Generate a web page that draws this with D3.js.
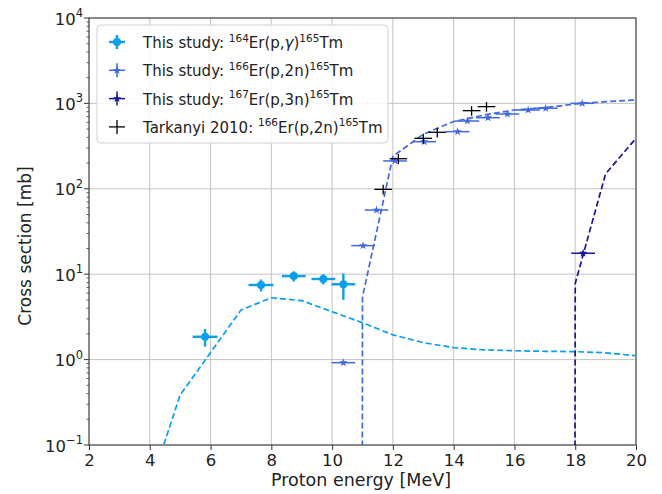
<!DOCTYPE html>
<html><head><meta charset="utf-8">
<script src="https://cdn.jsdelivr.net/npm/d3@7"></script>
<style>
body{margin:0;background:#fff;}
text{font-family:"DejaVu Sans",sans-serif;fill:#222;}
</style></head>
<body><svg id="c" width="662" height="494"></svg>
<script>
// ---- data ----
const xTicks = [2,4,6,8,10,12,14,16,18,20];
const yTickExp = [-1,0,1,2,3,4];

// This study 164Er(p,g)165Tm
const s1E = [5.82, 7.66, 8.74, 9.71, 10.37];
const s1EErr = [0.41, 0.41, 0.39, 0.39, 0.39];
const s1Xs = [1.85, 7.47, 9.5, 8.79, 7.62];
const s1XsErr = [0.43, 1.2, 1.3, 1.2, 2.6];

// This study 166Er(p,2n)165Tm
const s2E = [10.37, 11.02, 11.46, 12.07, 13.03, 14.13, 14.45, 15.13, 15.77, 16.45, 17.03, 18.23];
const s2EErr = [0.39,0.39,0.39,0.39,0.39,0.39,0.39,0.39,0.39,0.39,0.39,0.39];
const s2Xs = [0.92, 21.6, 56.4, 212, 356, 467, 622, 680, 751, 837, 877, 1002];
const s2XsErr = [0.04, 1.0, 2.5, 9, 15, 20, 26, 28, 31, 35, 36, 42];

// This study 167Er(p,3n)165Tm
const s3E = [18.26];
const s3EErr = [0.39];
const s3Xs = [17.6];
const s3XsErr = [1.0];

// Tarkanyi 2010 166Er(p,2n)165Tm
const s4E = [11.68, 12.18, 13.0, 13.46, 14.59, 15.08];
const s4EErr = [0.29, 0.29, 0.29, 0.29, 0.29, 0.29];
const s4Xs = [98.6, 225, 390, 459, 822, 916];
const s4XsErr = [13, 30, 52, 60, 105, 118];

// model curves (dashed)
const m1E = [4,5,6,7,8,9,10,11,12,13,14,15,16,17,18,19,20];
const m1Xs = [0.032,0.385,1.21,3.8,5.3,4.9,3.64,2.7,1.95,1.58,1.38,1.30,1.27,1.25,1.24,1.2,1.11];
const m2E = [10,11,12,13,14,15,16,17,18,19,20];
const m2Xs = [0,5.4,240,435,614,731,837,891,984,1047,1096];
const m3E = [17,18,19,20];
const m3Xs = [0,7.8,150,390];

const colors = ["#0a9fec", "#4169e1", "#16169a", "#000000"];
const labels = [
  {pre:"This study: ", a:"164", mid:"Er(p,", g:true, mid2:")", b:"165"},
  {pre:"This study: ", a:"166", mid:"Er(p,2n)", b:"165"},
  {pre:"This study: ", a:"167", mid:"Er(p,3n)", b:"165"},
  {pre:"Tarkanyi 2010: ", a:"166", mid:"Er(p,2n)", b:"165"}
];

// ---- layout ----
const L=89, R=636, T=18, B=445;
const svg = d3.select("#c");
const x = d3.scaleLinear().domain([2,20]).range([L,R]);
const y = d3.scaleLog().domain([0.1,1e4]).range([B,T]);
const yv = v => v>0 ? y(v) : y(1e-300);

svg.append("defs").append("clipPath").attr("id","clip")
  .append("rect").attr("x",L).attr("y",T).attr("width",R-L).attr("height",B-T);

// grid
const g = svg.append("g");
xTicks.forEach(t=>{
  g.append("line").attr("x1",x(t)).attr("x2",x(t)).attr("y1",T).attr("y2",B)
   .attr("stroke","#c4c4c4").attr("stroke-width",1);
});
yTickExp.forEach(e=>{
  g.append("line").attr("x1",L).attr("x2",R).attr("y1",y(Math.pow(10,e))).attr("y2",y(Math.pow(10,e)))
   .attr("stroke","#c4c4c4").attr("stroke-width",1);
});

// axes
const xAxis = d3.axisBottom(x).tickValues(xTicks).tickSize(5).tickPadding(4).tickFormat(d3.format("d"));
const gx = svg.append("g").attr("transform",`translate(0,${B})`).call(xAxis);
gx.selectAll("text").attr("font-size",16.5).attr("fill","#222").attr("dy","0.71em");
gx.select(".domain").remove();
gx.selectAll("line").attr("stroke","#333");

// y ticks major + minor
const gy = svg.append("g");
yTickExp.forEach(e=>{
  const yy = y(Math.pow(10,e));
  gy.append("line").attr("x1",L-5).attr("x2",L).attr("y1",yy).attr("y2",yy).attr("stroke","#333");
  const t = gy.append("text").attr("x",L-6).attr("y",yy+6.5).attr("text-anchor","end").attr("font-size",16.5);
  t.append("tspan").text("10");
  t.append("tspan").attr("dy",-7.5).attr("font-size",11.5).text(e<0?"\u2212"+(-e):String(e));
  if(e<4){
    for(let k=2;k<=9;k++){
      const v = k*Math.pow(10,e), yy2=y(v);
      gy.append("line").attr("x1",L-2.5).attr("x2",L).attr("y1",yy2).attr("y2",yy2).attr("stroke","#333").attr("stroke-width",0.8);
    }
  }
});

// frame
svg.append("rect").attr("x",L).attr("y",T).attr("width",R-L).attr("height",B-T)
  .attr("fill","none").attr("stroke","#333").attr("stroke-width",1);

// labels
svg.append("text").attr("x",361).attr("y",486).attr("text-anchor","middle").attr("font-size",17.5).text("Proton energy [MeV]");
svg.append("text").attr("transform","translate(31,246) rotate(-90)").attr("text-anchor","middle").attr("font-size",17).text("Cross section [mb]");

// model curves
const plot = svg.append("g").attr("clip-path","url(#clip)");
const line = d3.line().x(d=>x(d[0])).y(d=>yv(d[1]));
[[m1E,m1Xs,colors[0]],[m2E,m2Xs,colors[1]],[m3E,m3Xs,colors[2]]].forEach(([E,V,c])=>{
  plot.append("path").datum(E.map((e,i)=>[e,V[i]])).attr("d",line)
    .attr("fill","none").attr("stroke",c).attr("stroke-width",1.7).attr("stroke-dasharray","6,3");
});

// error bars
function errSeries(E,EE,V,VE,c,lw,marker){
  E.forEach((e,i)=>{
    const cx=x(e), cy=y(V[i]);
    plot.append("line").attr("x1",x(e-EE[i])).attr("x2",x(e+EE[i])).attr("y1",cy).attr("y2",cy)
      .attr("stroke",c).attr("stroke-width",lw);
    plot.append("line").attr("x1",cx).attr("x2",cx).attr("y1",y(V[i]+VE[i])).attr("y2",y(Math.max(V[i]-VE[i],1e-3)))
      .attr("stroke",c).attr("stroke-width",lw);
    if(marker==="circle") plot.append("circle").attr("cx",cx).attr("cy",cy).attr("r",4).attr("fill",c);
    if(marker==="star") plot.append("path").attr("d",d3.symbol(d3.symbolStar,22)()).attr("transform",`translate(${cx},${cy})`).attr("fill",c);
  });
}
errSeries(s1E,s1EErr,s1Xs,s1XsErr,colors[0],2.4,"circle");
errSeries(s2E,s2EErr,s2Xs,s2XsErr,colors[1],1.5,"star");
errSeries(s3E,s3EErr,s3Xs,s3XsErr,colors[2],1.5,"star");
errSeries(s4E,s4EErr,s4Xs,s4XsErr,colors[3],1.3,null);

// legend
const lg = svg.append("g");
lg.append("rect").attr("x",97).attr("y",25).attr("width",291).attr("height",118).attr("rx",4)
  .attr("fill","rgba(255,255,255,0.85)").attr("stroke","#d0d0d0");
const markers=["circle","star","star",null], lws=[2.4,1.5,1.5,1.3];
labels.forEach((lb,i)=>{
  const cy = 42 + i*28.3, cx=117;
  lg.append("line").attr("x1",cx-8).attr("x2",cx+8).attr("y1",cy).attr("y2",cy).attr("stroke",colors[i]).attr("stroke-width",lws[i]);
  lg.append("line").attr("x1",cx).attr("x2",cx).attr("y1",cy-7).attr("y2",cy+7).attr("stroke",colors[i]).attr("stroke-width",lws[i]);
  if(markers[i]==="circle") lg.append("circle").attr("cx",cx).attr("cy",cy).attr("r",4).attr("fill",colors[i]);
  if(markers[i]==="star") lg.append("path").attr("d",d3.symbol(d3.symbolStar,22)()).attr("transform",`translate(${cx},${cy})`).attr("fill",colors[i]);
  const t = lg.append("text").attr("x",143).attr("y",cy+6).attr("font-size",15);
  t.append("tspan").text(lb.pre);
  t.append("tspan").attr("dy",-6.5).attr("font-size",10.5).text(lb.a);
  t.append("tspan").attr("dy",6.5).text(lb.mid);
  if(lb.g){
    t.append("tspan").attr("font-style","italic").text("\u03b3");
    t.append("tspan").text(lb.mid2);
  }
  t.append("tspan").attr("dy",-6.5).attr("font-size",10.5).text(lb.b);
  t.append("tspan").attr("dy",6.5).text("Tm");
});
</script></body></html>
